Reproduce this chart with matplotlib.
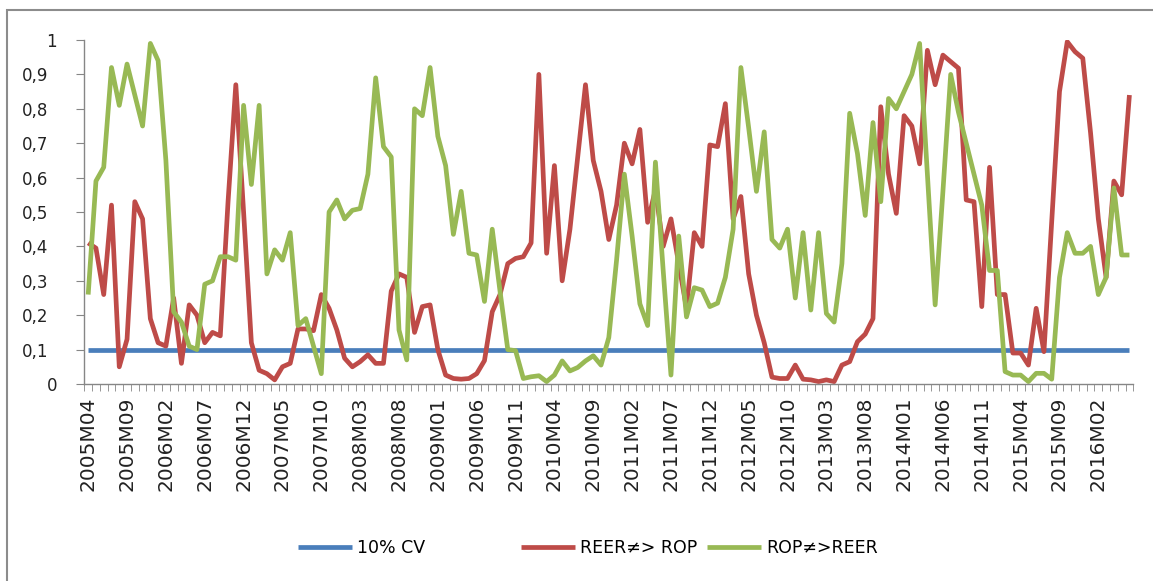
import numpy as np
import pandas as pd
import matplotlib
matplotlib.use('Agg')
import matplotlib.pyplot as plt
import matplotlib.transforms as mtransforms
from matplotlib.patches import Rectangle

BLUE = '#4A7EBB'
RED = '#BE4B48'
GREEN = '#98B954'
AXIS = '#868686'

# monthly categories 2005M04 .. 2016M06
months = [f'{p.year}M{p.month:02d}' for p in pd.period_range('2005-04', '2016-06', freq='M')]

cv10 = [0.1] * len(months)

reer_rop = [
    0.41, 0.395, 0.26, 0.52, 0.05, 0.13, 0.53, 0.48, 0.19, 0.12,
    0.11, 0.25, 0.06, 0.23, 0.20, 0.12, 0.15, 0.14, 0.53, 0.87,
    0.50, 0.12, 0.04, 0.03, 0.012, 0.05, 0.06, 0.16, 0.16, 0.155,
    0.26, 0.22, 0.157, 0.075, 0.05, 0.065, 0.085, 0.06, 0.06, 0.27,
    0.32, 0.31, 0.15, 0.225, 0.23, 0.10, 0.026, 0.016, 0.014, 0.016,
    0.03, 0.068, 0.21, 0.26, 0.35, 0.365, 0.37, 0.41, 0.90, 0.38,
    0.635, 0.30, 0.45, 0.66, 0.87, 0.65, 0.56, 0.42, 0.52, 0.70,
    0.64, 0.74, 0.47, 0.565, 0.40, 0.48, 0.35, 0.22, 0.44, 0.40,
    0.695, 0.69, 0.815, 0.48, 0.545, 0.32, 0.20, 0.12, 0.02, 0.016,
    0.016, 0.055, 0.014, 0.012, 0.007, 0.012, 0.007, 0.055, 0.065, 0.123,
    0.145, 0.19, 0.806, 0.61, 0.496, 0.78, 0.75, 0.64, 0.97, 0.87,
    0.956, 0.937, 0.918, 0.535, 0.53, 0.225, 0.63, 0.26, 0.26, 0.09,
    0.09, 0.055, 0.22, 0.094, 0.47, 0.85, 0.995, 0.966, 0.947, 0.73,
    0.48, 0.31, 0.59, 0.55, 0.84,
]

rop_reer = [
    0.26, 0.59, 0.63, 0.92, 0.81, 0.93, 0.84, 0.75, 0.99, 0.94,
    0.65, 0.21, 0.18, 0.11, 0.10, 0.29, 0.30, 0.37, 0.37, 0.36,
    0.81, 0.58, 0.81, 0.32, 0.39, 0.36, 0.44, 0.17, 0.19, 0.11,
    0.03, 0.50, 0.535, 0.48, 0.505, 0.51, 0.61, 0.89, 0.69, 0.66,
    0.157, 0.07, 0.80, 0.78, 0.92, 0.72, 0.635, 0.435, 0.56, 0.38,
    0.375, 0.24, 0.45, 0.27, 0.10, 0.097, 0.016, 0.021, 0.024, 0.007,
    0.026, 0.067, 0.038, 0.048, 0.067, 0.082, 0.055, 0.135, 0.36, 0.61,
    0.43, 0.233, 0.17, 0.645, 0.33, 0.026, 0.43, 0.195, 0.28, 0.273,
    0.225, 0.235, 0.31, 0.45, 0.92, 0.745, 0.56, 0.733, 0.42, 0.395,
    0.45, 0.25, 0.44, 0.215, 0.44, 0.205, 0.18, 0.35, 0.787, 0.67,
    0.49, 0.76, 0.53, 0.83, 0.80, 0.85, 0.90, 0.99, 0.61, 0.23,
    0.56, 0.90, 0.79, 0.70, 0.61, 0.52, 0.33, 0.33, 0.036, 0.026,
    0.026, 0.007, 0.031, 0.031, 0.014, 0.31, 0.44, 0.38, 0.38, 0.40,
    0.26, 0.31, 0.57, 0.375, 0.375,
]

yticks = [0, 0.1, 0.2, 0.3, 0.4, 0.5, 0.6, 0.7, 0.8, 0.9, 1]

W, H = 1153, 581
fig = plt.figure(figsize=(W / 100, H / 100), dpi=100)
ax = fig.add_axes([84.3 / W, 1 - 384 / H, (1133.3 - 84.3) / W, 344 / H])

x = np.arange(len(months))
l1, = ax.plot(x, cv10, color=BLUE, lw=3.4, solid_capstyle='butt')
l2, = ax.plot(x, reer_rop, color=RED, lw=3.4, solid_joinstyle='round',
              solid_capstyle='butt')
l3, = ax.plot(x, rop_reer, color=GREEN, lw=3.4, solid_joinstyle='round',
              solid_capstyle='butt')

ax.set_xlim(-0.5, len(months) - 0.5)
ax.set_ylim(0, 1)

# y axis
ax.set_yticks(yticks)
ax.set_yticklabels([('%.1f' % v).rstrip('0').rstrip('.').replace('.', ',') for v in yticks])
ax.tick_params(axis='y', length=6, color=AXIS, labelsize=12, pad=20, labelcolor='#222222')

# x axis: label every 5th month, tick at every category boundary
ax.set_xticks(x[::5])
ax.set_xticklabels(months[::5], rotation=90)
ax.set_xticks(np.arange(-0.5, len(months) + 0.5, 1), minor=True)
ax.tick_params(axis='x', which='major', length=0, labelsize=14.5, pad=9, labelcolor='#222222')
ax.tick_params(axis='x', which='minor', length=5, color=AXIS, direction='out')

for s in ['top', 'right']:
    ax.spines[s].set_visible(False)
for s in ['left', 'bottom']:
    ax.spines[s].set_color(AXIS)
    ax.spines[s].set_linewidth(1)

# single digit labels sit further right in the original
for lab in ax.get_yticklabels():
    if len(lab.get_text()) == 1:
        lab.set_transform(lab.get_transform() +
                          mtransforms.ScaledTranslation(9 / 100, 0, fig.dpi_scale_trans))

# chart frame (right / bottom edges fall outside the picture)
fig.patches.append(Rectangle((7 / W, -0.05), 1.1, 1 - 10 / H + 0.05,
                             transform=fig.transFigure, fill=False,
                             edgecolor='#8c8c8c', lw=1.5))

# legend entries placed one by one like the original
for handle, text, x0 in [(l1, '10% CV', 298), (l2, 'REER≠> ROP', 521), (l3, 'ROP≠>REER', 707)]:
    leg = fig.legend([handle], [text], loc='center left',
                     bbox_to_anchor=(x0 / W, 1 - 548 / H), frameon=False,
                     fontsize=12.5, handlelength=3.1, handletextpad=0.3,
                     borderpad=0, borderaxespad=0)

plt.savefig('out.png', dpi=100)
